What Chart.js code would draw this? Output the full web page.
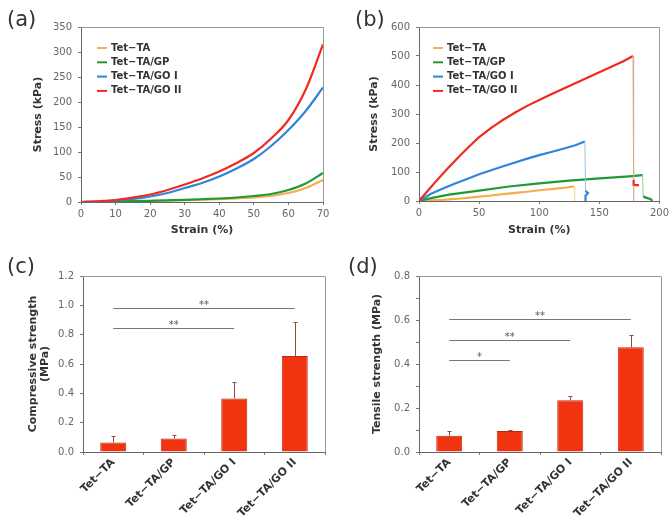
<!DOCTYPE html>
<html>
<head>
<meta charset="utf-8">
<title>Stress-strain curves and strength</title>
<script src="https://cdn.jsdelivr.net/npm/chart.js@4.4.1/dist/chart.umd.min.js"></script>
<style>
  body { margin: 0; background: #fff; }
  #page { position: relative; width: 672px; height: 521px; overflow: hidden; }
  canvas { position: absolute; }
  .tag { position: absolute; font: 21px/1 "DejaVu Sans", sans-serif; color: #333; }
</style>
</head>
<body>
<div id="page">
  <canvas id="chartA" width="336" height="250" style="left:0;top:0"></canvas>
  <canvas id="chartB" width="336" height="250" style="left:336px;top:0"></canvas>
  <canvas id="chartC" width="336" height="271" style="left:0;top:250px"></canvas>
  <canvas id="chartD" width="336" height="271" style="left:336px;top:250px"></canvas>
  <div class="tag" style="left:7px;top:9px">(a)</div>
  <div class="tag" style="left:355px;top:9px">(b)</div>
  <div class="tag" style="left:7px;top:256px">(c)</div>
  <div class="tag" style="left:348px;top:256px">(d)</div>
</div>
<script>
const seriesNames = ["Tet−TA", "Tet−TA/GP", "Tet−TA/GO I", "Tet−TA/GO II"];

// (a) compression stress-strain
const strainA = [0, 5, 10, 15, 20, 25, 30, 35, 40, 45, 50, 55, 60, 65, 70];
const compTA  = [0, 0.3, 0.8, 1.3, 2, 2.8, 3.6, 4.6, 5.8, 7.2, 9, 12.5, 18, 28, 44];
const compGP  = [0, 0.4, 1, 1.6, 2.4, 3.2, 4.2, 5.5, 7, 9, 12, 16, 24, 37, 58];
const compGO1 = [0, 1, 3, 6, 11, 18, 28, 38, 51, 67, 86, 112, 144, 182, 229];
const compGO2 = [0, 1.5, 4, 9, 15, 24, 35, 47, 61, 78, 98, 127, 164, 225, 315];

// (b) tensile stress-strain (last points are the break)
const strainTA  = [0, 10, 20, 30, 40, 50, 60, 70, 80, 90, 100, 110, 120, 129, 129.5];
const tensTA    = [0, 2, 4, 7, 11, 15, 19, 24, 28, 32, 37, 41, 45, 50, 0];
const strainGP  = [0, 10, 25, 50, 75, 100, 125, 150, 175, 186, 186.5, 190, 193, 193.5];
const tensGP    = [0, 10, 22, 36, 50, 61, 70, 78, 85, 89, 15, 10, 6, 0];
const strainGO1 = [0, 10, 20, 30, 40, 50, 60, 70, 80, 90, 100, 110, 120, 130, 138, 138.5, 140.5, 138.5, 138.5];
const tensGO1   = [0, 25, 43, 60, 76, 92, 106, 120, 133, 146, 158, 169, 180, 192, 205, 35, 27, 18, 0];
const strainGO2 = [0, 5, 10, 15, 20, 25, 30, 35, 40, 45, 50, 55, 60, 65, 70, 80, 90, 100, 110, 120, 130, 140, 150, 160, 170, 178, 178.5, 178.5, 183, 178.5, 178.5];
const tensGO2   = [0, 24, 48, 72, 95, 117, 139, 160, 181, 201, 220, 236, 252, 266, 280, 305, 328, 348, 368, 387, 406, 425, 444, 463, 482, 500, 72, 55, 55, 55, 0];

// (c) and (d) strength bars
const groups = ["Tet−TA", "Tet−TA/GP", "Tet−TA/GO I", "Tet−TA/GO II"];
const compStrength = [0.065, 0.092, 0.365, 0.655];
const compErr      = [0.045, 0.024, 0.11, 0.23];
const tensStrength = [0.074, 0.095, 0.235, 0.476];
const tensErr      = [0.02, 0.007, 0.018, 0.057];

// significance brackets: from group, to group, height, mark
const sigCFrom = [0, 0];
const sigCTo = [3, 2];
const sigCLevel = [0.98, 0.843];
const sigCText = ["**", "**"];
const sigDFrom = [0, 0, 0];
const sigDTo = [3, 2, 1];
const sigDLevel = [0.605, 0.51, 0.42];
const sigDText = ["**", "**", "*"];

const FONT = "'DejaVu Sans', sans-serif";
const lineColors = ["#f5ad4f", "#1f9a35", "#2f86d8", "#ee2b1c"];
const dropColors = ["#f7dcae", "#8fcb95", "#9cc2ea", "#d8a98e"];
Chart.defaults.font.family = FONT;

function pts(xs, ys) {
  return xs.map((x, i) => ({ x: x, y: ys[i] }));
}

function isDrop(c) {
  return Math.abs(c.p1.parsed.x - c.p0.parsed.x) < 1 && c.p0.parsed.y - c.p1.parsed.y > 20;
}

function curve(i, xs, ys, smooth) {
  return {
    label: seriesNames[i],
    data: pts(xs, ys),
    borderColor: lineColors[i],
    borderWidth: 2.2,
    pointRadius: 0,
    order: 3 - i,
    cubicInterpolationMode: smooth ? "monotone" : "default",
    tension: 0,
    segment: {
      borderWidth: c => (isDrop(c) ? 1 : undefined),
      borderColor: c => (isDrop(c) ? dropColors[i] : undefined)
    }
  };
}

// top + right edges of the plot box
const frame = {
  id: "frame",
  afterDraw(chart) {
    const { ctx, chartArea: a } = chart;
    ctx.save();
    ctx.strokeStyle = "#999";
    ctx.lineWidth = 1;
    ctx.beginPath();
    ctx.moveTo(Math.round(a.left), Math.round(a.top) + 0.5);
    ctx.lineTo(Math.round(a.right) + 0.5, Math.round(a.top) + 0.5);
    ctx.lineTo(Math.round(a.right) + 0.5, Math.round(a.bottom));
    ctx.stroke();
    ctx.restore();
  }
};

// legend drawn inside the plot area
const inLegend = {
  id: "inLegend",
  afterDatasetsDraw(chart, args, opts) {
    const { ctx, chartArea: a } = chart;
    ctx.save();
    ctx.font = "bold 10px " + FONT;
    ctx.textBaseline = "middle";
    chart.data.datasets.forEach((ds, i) => {
      const x = a.left + opts.x;
      const y = a.top + opts.y + i * opts.gap;
      ctx.strokeStyle = ds.borderColor;
      ctx.lineWidth = 2;
      ctx.beginPath();
      ctx.moveTo(x, y);
      ctx.lineTo(x + 10, y);
      ctx.stroke();
      ctx.fillStyle = "#333";
      ctx.fillText(ds.label, x + 14, y);
    });
    ctx.restore();
  }
};

const errorBars = {
  id: "errorBars",
  afterDatasetsDraw(chart, args, opts) {
    const { ctx, scales: { y } } = chart;
    const meta = chart.getDatasetMeta(0);
    const vals = chart.data.datasets[0].data;
    ctx.save();
    ctx.strokeStyle = "#9a4a3a";
    ctx.lineWidth = 1;
    meta.data.forEach((bar, i) => {
      const x = Math.round(bar.x) + 0.5;
      const top = Math.round(y.getPixelForValue(vals[i] + opts.errors[i])) + 0.5;
      ctx.beginPath();
      ctx.moveTo(x, bar.y);
      ctx.lineTo(x, top);
      ctx.moveTo(x - 2, top);
      ctx.lineTo(x + 2, top);
      ctx.stroke();
    });
    ctx.restore();
  }
};

const sigBars = {
  id: "sigBars",
  afterDatasetsDraw(chart, args, opts) {
    const { ctx, scales: { x, y } } = chart;
    ctx.save();
    ctx.strokeStyle = "#777";
    ctx.lineWidth = 1;
    ctx.fillStyle = "#555";
    ctx.font = "10px " + FONT;
    ctx.textAlign = "center";
    ctx.textBaseline = "alphabetic";
    opts.from.forEach((f, k) => {
      const x0 = x.getPixelForValue(f);
      const x1 = x.getPixelForValue(opts.to[k]);
      const yy = Math.round(y.getPixelForValue(opts.level[k])) + 0.5;
      ctx.beginPath();
      ctx.moveTo(x0, yy);
      ctx.lineTo(x1, yy);
      ctx.stroke();
      ctx.fillText(opts.text[k], (x0 + x1) / 2, yy - 1);
    });
    ctx.restore();
  }
};

function tickFont() {
  return { family: FONT, size: 10 };
}

function linAxis(min, max, step, title, pad, fitSize, horizontal, fmt) {
  return {
    type: "linear",
    min: min,
    max: max,
    ticks: { stepSize: step, color: "#666", font: tickFont(), padding: horizontal ? 3 : 6, callback: fmt },
    grid: { drawOnChartArea: false, tickLength: 3, color: "#777" },
    border: { color: "#666" },
    title: {
      display: !!title,
      text: title,
      color: "#333",
      font: { family: FONT, size: 11, weight: "bold", lineHeight: 1.1 },
      padding: horizontal ? { top: 0, bottom: pad } : { top: pad, bottom: 0 }
    },
    afterFit: s => {
      if (horizontal) s.height = fitSize; else s.width = fitSize;
    }
  };
}

const base = { responsive: false, animation: false, events: [] };

new Chart(document.getElementById("chartA"), {
  type: "line",
  data: {
    datasets: [
      curve(0, strainA, compTA, true),
      curve(1, strainA, compGP, true),
      curve(2, strainA, compGO1, true),
      curve(3, strainA, compGO2, true)
    ]
  },
  options: Object.assign({}, base, {
    layout: { padding: { left: 0, top: 27, right: 13, bottom: 0 } },
    scales: {
      x: linAxis(0, 70, 10, "Strain (%)", 14, 48, true),
      y: linAxis(0, 350, 50, "Stress (kPa)", 32, 81, false)
    },
    plugins: { legend: { display: false }, tooltip: { enabled: false }, inLegend: { x: 16, y: 21, gap: 14.3 } }
  }),
  plugins: [frame, inLegend]
});

new Chart(document.getElementById("chartB"), {
  type: "line",
  data: {
    datasets: [
      curve(0, strainTA, tensTA, false),
      curve(1, strainGP, tensGP, false),
      curve(2, strainGO1, tensGO1, false),
      curve(3, strainGO2, tensGO2, false)
    ]
  },
  options: Object.assign({}, base, {
    layout: { padding: { left: 0, top: 27, right: 11, bottom: 0 } },
    scales: {
      x: linAxis(0, 200, 50, "Strain (%)", 14, 49, true),
      y: linAxis(0, 600, 100, "Stress (kPa)", 32, 83, false)
    },
    plugins: { legend: { display: false }, tooltip: { enabled: false }, inLegend: { x: 14, y: 21, gap: 14.3 } }
  }),
  plugins: [frame, inLegend]
});

function barAxis() {
  return {
    type: "category",
    ticks: {
      color: "#333",
      font: { family: FONT, size: 11, weight: "bold" },
      maxRotation: 45,
      minRotation: 45,
      autoSkip: false,
      padding: 1
    },
    grid: { drawOnChartArea: false, offset: true, tickLength: 3, color: "#777" },
    border: { color: "#666" },
    afterFit: s => { s.height = 69; }
  };
}

function barSet(values) {
  return {
    data: values,
    backgroundColor: "#f2330f",
    borderColor: "#b92a10",
    borderWidth: 1,
    categoryPercentage: 1,
    barPercentage: 0.43
  };
}

new Chart(document.getElementById("chartC"), {
  type: "bar",
  data: { labels: groups, datasets: [barSet(compStrength)] },
  options: Object.assign({}, base, {
    layout: { padding: { left: 0, top: 26, right: 11, bottom: 0 } },
    scales: {
      x: barAxis(),
      y: linAxis(0, 1.2, 0.2, ["Compressive strength", "(MPa)"], 27, 83, false, v => v.toFixed(1))
    },
    plugins: {
      legend: { display: false },
      tooltip: { enabled: false },
      errorBars: { errors: compErr },
      sigBars: { from: sigCFrom, to: sigCTo, level: sigCLevel, text: sigCText }
    }
  }),
  plugins: [frame, errorBars, sigBars]
});

new Chart(document.getElementById("chartD"), {
  type: "bar",
  data: { labels: groups, datasets: [barSet(tensStrength)] },
  options: Object.assign({}, base, {
    layout: { padding: { left: 0, top: 26, right: 11, bottom: 0 } },
    scales: {
      x: barAxis(),
      y: linAxis(0, 0.8, 0.1, "Tensile strength (MPa)", 35, 83, false,
        v => (Math.round(v * 10) % 2 === 0 ? v.toFixed(1) : ""))
    },
    plugins: {
      legend: { display: false },
      tooltip: { enabled: false },
      errorBars: { errors: tensErr },
      sigBars: { from: sigDFrom, to: sigDTo, level: sigDLevel, text: sigDText }
    }
  }),
  plugins: [frame, errorBars, sigBars]
});
</script>
</body>
</html>
